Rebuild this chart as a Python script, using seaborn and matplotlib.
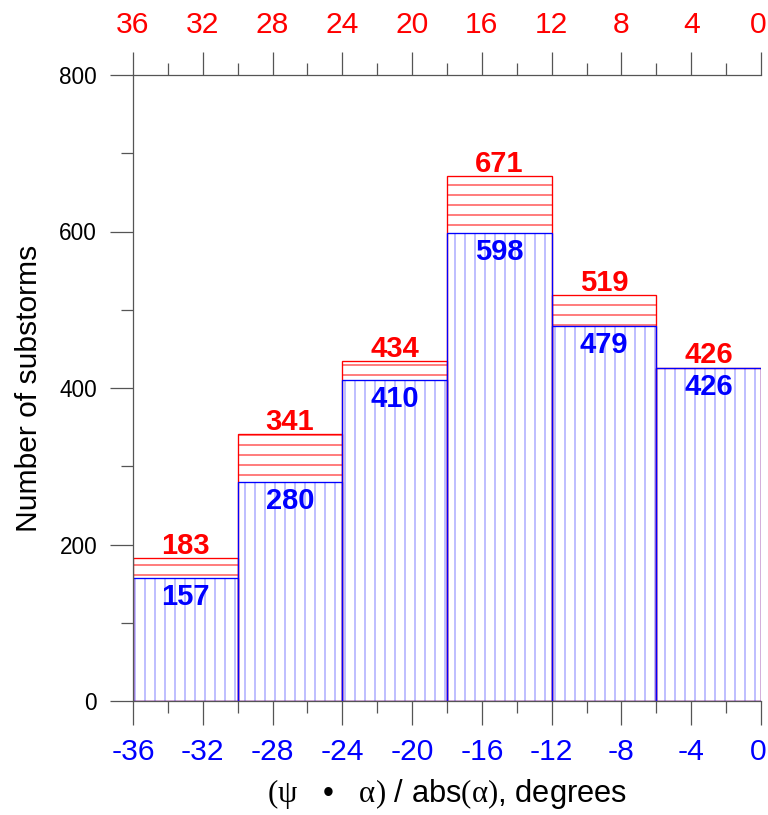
import matplotlib
matplotlib.use("Agg")
import matplotlib.pyplot as plt
import matplotlib.transforms as mtransforms
import seaborn as sns
import numpy as np

# Data
bin_edges = [-36, -30, -24, -18, -12, -6, 0]
totals = [183, 341, 434, 671, 519, 426]
subset = [157, 280, 410, 598, 479, 426]
top_ticks = [36, 32, 28, 24, 20, 16, 12, 8, 4, 0]
bottom_ticks = [-36, -32, -28, -24, -20, -16, -12, -8, -4, 0]
y_ticks = [0, 200, 400, 600, 800]

sns.set_theme(style="white")
plt.rcParams['font.family'] = ['Liberation Sans', 'DejaVu Sans']
plt.rcParams['mathtext.fontset'] = 'custom'
plt.rcParams['mathtext.rm'] = 'Liberation Serif'
plt.rcParams['mathtext.it'] = 'Liberation Serif'
plt.rcParams['mathtext.bf'] = 'Liberation Serif:bold'
plt.rcParams['hatch.linewidth'] = 1.2

DPI = 60
fig = plt.figure(figsize=(768 / DPI, 815 / DPI), dpi=DPI)
ax = fig.add_axes([133 / 768, 1 - 701 / 815, (761 - 133) / 768, (701 - 75) / 815])

centers = [(bin_edges[i] + bin_edges[i + 1]) / 2 for i in range(len(totals))]

# red totals: hatch
sns.histplot(x=centers, weights=totals, bins=bin_edges, ax=ax, stat="count",
             element="bars", fill=True, color="white", edgecolor="#ff0000",
             linewidth=0, hatch="-", alpha=1)
# blue subset: hatch
sns.histplot(x=centers, weights=subset, bins=bin_edges, ax=ax, stat="count",
             element="bars", fill=True, color="white", edgecolor="#8080ff",
             linewidth=0, hatch="|", alpha=1)
# edges
sns.histplot(x=centers, weights=totals, bins=bin_edges, ax=ax, stat="count",
             element="bars", fill=False, color="#ff0000", linewidth=1.6)
sns.histplot(x=centers, weights=subset, bins=bin_edges, ax=ax, stat="count",
             element="bars", fill=False, color="#0000ff", linewidth=1.6)

for c, t, s in zip(centers, totals, subset):
    ax.annotate(str(t), xy=(c, t), xytext=(0, 5), textcoords="offset points",
                ha="center", va="baseline", color="#ff0000", fontsize=35,
                fontweight="bold")
    ax.annotate(str(s), xy=(c, s), xytext=(0, -6), textcoords="offset points",
                ha="center", va="top", color="#0000ff", fontsize=35,
                fontweight="bold")

ax.set_xlim(-36, 0)
ax.set_ylim(0, 800)

spine_color = "#555555"
for side in ["left", "bottom"]:
    ax.spines[side].set_visible(True)
    ax.spines[side].set_color(spine_color)
    ax.spines[side].set_linewidth(1.5)
ax.spines["right"].set_visible(False)
ax.spines["top"].set_visible(False)

ax.set_xticks(bottom_ticks)
ax.set_xticklabels([str(v) for v in bottom_ticks])
ax.set_xticks(np.arange(-34, 0, 4), minor=True)
ax.set_yticks(y_ticks)
ax.set_yticklabels([str(v) for v in y_ticks])
ax.set_yticks([100, 300, 500, 700], minor=True)

ax.tick_params(axis="x", which="major", direction="out", length=29, width=1.5,
               color=spine_color, labelsize=36, labelcolor="#0000ff", pad=15,
               bottom=True)
ax.tick_params(axis="x", which="minor", direction="out", length=14, width=1.5,
               color=spine_color, bottom=True)
ax.tick_params(axis="y", which="major", direction="out", length=28, width=1.5,
               color=spine_color, labelsize=27, labelcolor="black", pad=15,
               left=True)
ax.tick_params(axis="y", which="minor", direction="out", length=14, width=1.5,
               color=spine_color, left=True)

sec = ax.secondary_xaxis("top", functions=(lambda x: -x, lambda x: -x))
sec.set_xticks(top_ticks)
sec.set_xticklabels([str(v) for v in top_ticks])
sec.set_xticks(np.arange(2, 36, 4), minor=True)
sec.spines["top"].set_color(spine_color)
sec.spines["top"].set_linewidth(1.5)
sec.tick_params(axis="x", which="major", direction="out", length=28, width=1.5,
                color=spine_color, labelsize=36, labelcolor="#ff0000", pad=15)
sec.tick_params(axis="x", which="minor", direction="out", length=14, width=1.5,
                color=spine_color)

# nudge the "0" labels at the right edge slightly inward so they stay on canvas
shift = mtransforms.ScaledTranslation(-3 / DPI, 0, fig.dpi_scale_trans)
for lab in ax.get_xticklabels():
    if lab.get_text() == "0":
        lab.set_transform(lab.get_transform() + shift)
for lab in sec.get_xticklabels():
    if lab.get_text() == "0":
        lab.set_transform(lab.get_transform() + shift)

ax.set_xlabel(r"$(\psi$   •   $\alpha)$ / abs$(\alpha)$, degrees",
              fontsize=37, color="black", labelpad=14)
ax.set_ylabel("Number of substorms", fontsize=36, color="black", labelpad=20)

fig.savefig("out.png", dpi=DPI, facecolor="white")
